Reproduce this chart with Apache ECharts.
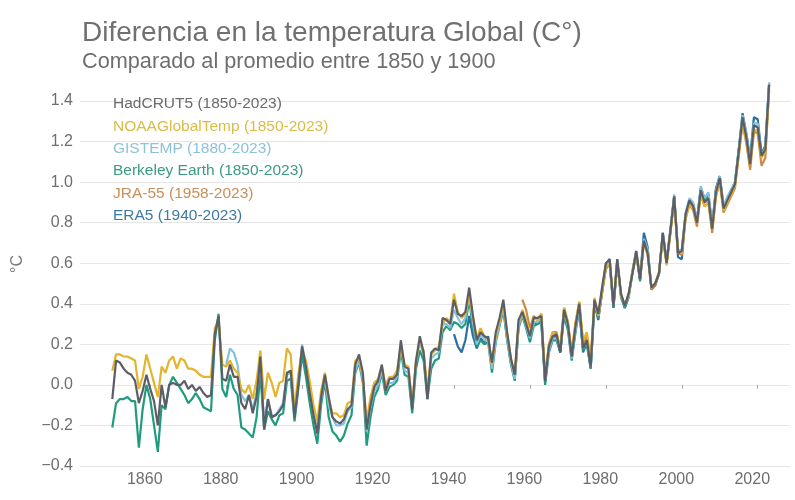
<!DOCTYPE html>
<html>
<head>
<meta charset="utf-8">
<script src="https://cdn.jsdelivr.net/npm/echarts@6/dist/echarts.min.js"></script>
<style>
  html, body { margin: 0; padding: 0; background: #fff; }
  #chart { width: 795px; height: 500px; }
</style>
</head>
<body>
<div id="chart"></div>
<script>
// anomalias anuales (°C) respecto al promedio 1850-1900
const hadcrut5Start = 1850
const hadcrut5 = [
  -0.07, 0.12, 0.11, 0.08, 0.06, 0.05, 0.02, -0.09, -0.03, 0.05,
  -0.02, -0.08, -0.20, 0.00, -0.11, 0.00, 0.01, 0.00, 0.00, 0.02,
  -0.02, 0.00, -0.03, -0.01, -0.04, -0.06, -0.05, 0.25, 0.34, 0.03,
  0.02, 0.10, 0.04, 0.04, -0.09, -0.12, -0.05, -0.14, -0.06, 0.14,
  -0.22, -0.07, -0.16, -0.15, -0.13, -0.10, 0.06, 0.07, -0.16, 0.00,
  0.19, 0.09, -0.04, -0.15, -0.24, -0.06, 0.05, -0.06, -0.16, -0.18,
  -0.19, -0.17, -0.12, -0.10, 0.10, 0.15, 0.06, -0.22, -0.10, -0.01,
  0.02, 0.10, -0.03, 0.03, 0.03, 0.05, 0.22, 0.09, 0.08, -0.12,
  0.12, 0.24, 0.16, -0.07, 0.16, 0.18, 0.17, 0.33, 0.32, 0.30,
  0.42, 0.35, 0.34, 0.36, 0.48, 0.34, 0.22, 0.26, 0.24, 0.23,
  0.11, 0.26, 0.33, 0.42, 0.26, 0.13, 0.05, 0.32, 0.36, 0.30,
  0.24, 0.33, 0.33, 0.34, 0.02, 0.19, 0.24, 0.25, 0.16, 0.37,
  0.30, 0.14, 0.29, 0.40, 0.18, 0.22, 0.09, 0.42, 0.35, 0.48,
  0.60, 0.62, 0.39, 0.62, 0.45, 0.39, 0.45, 0.55, 0.66, 0.52,
  0.71, 0.65, 0.48, 0.50, 0.55, 0.75, 0.60, 0.76, 0.93, 0.65,
  0.66, 0.84, 0.91, 0.88, 0.80, 0.96, 0.90, 0.92, 0.77, 0.95,
  1.02, 0.87, 0.91, 0.95, 0.99, 1.15, 1.32, 1.22, 1.09, 1.28,
  1.27, 1.13, 1.16, 1.48
]

const noaaStart = 1850
const noaaGlobalTemp = [
  0.07, 0.15, 0.15, 0.14, 0.14, 0.13, 0.12, -0.02, 0.04, 0.15,
  0.08, 0.01, -0.06, 0.09, 0.06, 0.12, 0.14, 0.08, 0.13, 0.12,
  0.08, 0.08, 0.07, 0.05, 0.04, 0.04, 0.04, 0.28, 0.32, 0.10,
  0.09, 0.12, 0.08, 0.06, -0.02, -0.04, 0.00, -0.07, 0.02, 0.17,
  -0.07, 0.06, 0.01, -0.06, 0.01, 0.02, 0.18, 0.15, -0.12, 0.05,
  0.17, 0.12, 0.02, -0.10, -0.18, -0.03, 0.06, -0.07, -0.14, -0.14,
  -0.16, -0.15, -0.09, -0.08, 0.12, 0.13, 0.04, -0.18, -0.06, 0.01,
  0.03, 0.09, 0.00, 0.04, 0.04, 0.07, 0.18, 0.10, 0.09, -0.09,
  0.12, 0.21, 0.17, -0.03, 0.15, 0.17, 0.19, 0.30, 0.33, 0.31,
  0.45, 0.36, 0.33, 0.35, 0.44, 0.33, 0.23, 0.28, 0.24, 0.22,
  0.10, 0.24, 0.31, 0.40, 0.25, 0.13, 0.05, 0.30, 0.37, 0.32,
  0.25, 0.33, 0.32, 0.35, 0.04, 0.19, 0.26, 0.25, 0.18, 0.38,
  0.31, 0.16, 0.31, 0.41, 0.22, 0.26, 0.12, 0.43, 0.34, 0.46,
  0.58, 0.60, 0.40, 0.61, 0.44, 0.40, 0.44, 0.56, 0.65, 0.53,
  0.70, 0.64, 0.48, 0.50, 0.56, 0.73, 0.59, 0.75, 0.91, 0.66,
  0.65, 0.82, 0.89, 0.87, 0.80, 0.94, 0.88, 0.90, 0.77, 0.93,
  1.01, 0.86, 0.90, 0.94, 0.98, 1.14, 1.30, 1.20, 1.09, 1.26,
  1.25, 1.12, 1.15, 1.46
]

const gistempStart = 1880
const gistemp = [
  0.10, 0.18, 0.16, 0.10, -0.05, -0.08, -0.05, -0.12, -0.04, 0.12,
  -0.18, -0.07, -0.15, -0.15, -0.12, -0.09, 0.05, 0.06, -0.15, 0.02,
  0.20, 0.10, -0.03, -0.14, -0.22, -0.07, 0.04, -0.10, -0.16, -0.20,
  -0.20, -0.19, -0.13, -0.11, 0.07, 0.12, 0.03, -0.23, -0.11, -0.03,
  0.00, 0.07, -0.03, 0.01, 0.01, 0.04, 0.20, 0.07, 0.06, -0.11,
  0.11, 0.21, 0.15, -0.05, 0.13, 0.15, 0.16, 0.30, 0.30, 0.28,
  0.37, 0.33, 0.30, 0.33, 0.45, 0.31, 0.20, 0.25, 0.22, 0.22,
  0.08, 0.22, 0.30, 0.39, 0.23, 0.11, 0.03, 0.29, 0.35, 0.29,
  0.23, 0.31, 0.31, 0.33, 0.02, 0.17, 0.23, 0.23, 0.17, 0.36,
  0.29, 0.13, 0.27, 0.39, 0.18, 0.22, 0.09, 0.41, 0.34, 0.47,
  0.59, 0.62, 0.39, 0.62, 0.44, 0.39, 0.44, 0.56, 0.66, 0.52,
  0.72, 0.67, 0.48, 0.50, 0.55, 0.75, 0.61, 0.77, 0.94, 0.66,
  0.67, 0.85, 0.92, 0.90, 0.81, 0.98, 0.92, 0.95, 0.79, 0.96,
  1.03, 0.88, 0.93, 0.96, 1.00, 1.16, 1.33, 1.24, 1.11, 1.29,
  1.29, 1.13, 1.17, 1.49
]

const berkeleyStart = 1850
const berkeleyEarth = [
  -0.21, -0.09, -0.07, -0.07, -0.06, -0.08, -0.08, -0.31, -0.12, 0.00,
  -0.07, -0.20, -0.33, -0.10, -0.12, 0.00, 0.04, 0.01, -0.02, -0.05,
  -0.09, -0.07, -0.04, -0.07, -0.11, -0.12, -0.13, 0.22, 0.35, -0.02,
  -0.06, 0.05, -0.02, -0.05, -0.21, -0.22, -0.24, -0.26, -0.16, 0.06,
  -0.22, -0.13, -0.17, -0.20, -0.15, -0.14, 0.02, 0.03, -0.18, -0.02,
  0.15, 0.04, -0.09, -0.20, -0.29, -0.10, 0.02, -0.16, -0.23, -0.25,
  -0.28, -0.25, -0.19, -0.15, 0.06, 0.11, 0.01, -0.30, -0.16, -0.06,
  -0.02, 0.06, -0.05, -0.01, 0.00, 0.02, 0.17, 0.05, 0.04, -0.14,
  0.08, 0.17, 0.12, -0.07, 0.08, 0.12, 0.13, 0.26, 0.29, 0.27,
  0.31, 0.30, 0.28, 0.30, 0.42, 0.28, 0.19, 0.22, 0.20, 0.21,
  0.06, 0.21, 0.29, 0.37, 0.22, 0.10, 0.02, 0.28, 0.34, 0.28,
  0.21, 0.29, 0.30, 0.31, 0.00, 0.16, 0.22, 0.22, 0.16, 0.34,
  0.27, 0.12, 0.26, 0.37, 0.17, 0.20, 0.08, 0.40, 0.33, 0.46,
  0.58, 0.60, 0.38, 0.61, 0.43, 0.38, 0.43, 0.55, 0.65, 0.51,
  0.71, 0.66, 0.48, 0.50, 0.55, 0.74, 0.60, 0.76, 0.93, 0.66,
  0.66, 0.84, 0.91, 0.89, 0.81, 0.97, 0.91, 0.93, 0.78, 0.96,
  1.03, 0.88, 0.92, 0.96, 1.00, 1.16, 1.31, 1.23, 1.10, 1.28,
  1.27, 1.14, 1.17, 1.48
]

const jra55Start = 1958
const jra55 = [
  0.42, 0.37,
  0.28, 0.34, 0.32, 0.35, 0.04, 0.20, 0.26, 0.26, 0.18, 0.38,
  0.31, 0.15, 0.30, 0.41, 0.20, 0.24, 0.11, 0.41, 0.33, 0.45,
  0.57, 0.60, 0.39, 0.60, 0.44, 0.39, 0.45, 0.55, 0.64, 0.52,
  0.70, 0.65, 0.47, 0.49, 0.55, 0.73, 0.60, 0.75, 0.92, 0.65,
  0.64, 0.82, 0.89, 0.86, 0.78, 0.94, 0.88, 0.90, 0.75, 0.93,
  1.00, 0.85, 0.89, 0.93, 0.97, 1.13, 1.29, 1.19, 1.06, 1.25,
  1.24, 1.08, 1.12, 1.45
]

const era5Start = 1940
const era5 = [
  0.25, 0.19, 0.16, 0.22, 0.34, 0.24, 0.18, 0.23, 0.21, 0.24,
  0.09, 0.23, 0.30, 0.38, 0.23, 0.11, 0.03, 0.29, 0.35, 0.30,
  0.23, 0.31, 0.30, 0.32, 0.01, 0.18, 0.23, 0.24, 0.16, 0.36,
  0.29, 0.13, 0.27, 0.38, 0.16, 0.21, 0.08, 0.40, 0.32, 0.46,
  0.59, 0.62, 0.38, 0.61, 0.44, 0.38, 0.44, 0.56, 0.66, 0.52,
  0.75, 0.68, 0.47, 0.49, 0.55, 0.75, 0.61, 0.76, 0.93, 0.63,
  0.62, 0.84, 0.91, 0.89, 0.81, 0.97, 0.92, 0.94, 0.78, 0.97,
  1.03, 0.87, 0.92, 0.96, 0.99, 1.16, 1.34, 1.24, 1.12, 1.32,
  1.31, 1.14, 1.18, 1.49
]

const xTickYears = [1860, 1880, 1900, 1920, 1940, 1960, 1980, 2000, 2020]

// nombre, datos, año inicial, color de linea, color del texto de leyenda
const datasets = [
  { name: 'HadCRUT5 (1850-2023)', values: hadcrut5, start: hadcrut5Start, color: '#5d5d68', text: '#6b6b6b' },
  { name: 'NOAAGlobalTemp (1850-2023)', values: noaaGlobalTemp, start: noaaStart, color: '#e3b42c', text: '#dcbb45' },
  { name: 'GISTEMP (1880-2023)', values: gistemp, start: gistempStart, color: '#86c1de', text: '#8cc3db' },
  { name: 'Berkeley Earth (1850-2023)', values: berkeleyEarth, start: berkeleyStart, color: '#1f9c7d', text: '#3b9a80' },
  { name: 'JRA-55 (1958-2023)', values: jra55, start: jra55Start, color: '#d08943', text: '#c98f58' },
  { name: 'ERA5 (1940-2023)', values: era5, start: era5Start, color: '#2b6f9e', text: '#3d7ba2' }
]

const chart = echarts.init(document.getElementById('chart'))

// la serie gris se dibuja encima del resto
const drawOrder = [5, 4, 3, 2, 1, 0]

const option = {
  animation: false,
  textStyle: { fontFamily: 'Liberation Sans, Arial, sans-serif' },
  title: {
    text: 'Diferencia en la temperatura Global (C°)',
    subtext: 'Comparado al promedio entre 1850 y 1900',
    left: 77,
    top: 14,
    itemGap: 4,
    textStyle: { fontSize: 28, fontWeight: 'normal', color: '#707070' },
    subtextStyle: { fontSize: 21.7, color: '#6e6e6e' }
  },
  legend: {
    orient: 'vertical',
    left: 103,
    top: 91,
    itemWidth: 0,
    itemHeight: 16,
    itemGap: 6.4,
    selectedMode: false,
    textStyle: { fontSize: 15.5 },
    data: datasets.map(d => ({ name: d.name, icon: 'rect', textStyle: { color: d.text } }))
  },
  graphic: [
    {
      type: 'text',
      left: 10,
      top: 255,
      rotation: Math.PI / 2,
      style: { text: '°C', fontSize: 16, fill: '#777', fontFamily: 'Liberation Sans, Arial, sans-serif' }
    }
  ],
  grid: { left: 80, right: 5, top: 101, bottom: 34 },
  xAxis: {
    type: 'value',
    min: 1841.5,
    max: 2028.5,
    axisLine: { show: false },
    splitLine: { show: false },
    axisTick: { show: true, length: 4, lineStyle: { color: '#aaa' }, customValues: xTickYears },
    axisLabel: {
      fontSize: 16,
      color: '#6e6e6e',
      margin: 6,
      padding: [0, 11, 0, 0],
      customValues: xTickYears,
      formatter: v => String(v)
    }
  },
  yAxis: {
    type: 'value',
    min: -0.4,
    max: 1.4,
    interval: 0.2,
    axisLine: { show: false },
    axisTick: { show: false },
    splitLine: { lineStyle: { color: '#e6e6e6', width: 1 } },
    axisLabel: {
      fontSize: 16,
      color: '#6e6e6e',
      margin: 7,
      formatter: v => (v < 0 ? '\u2212' + Math.abs(v).toFixed(1) : v.toFixed(1))
    }
  },
  series: drawOrder.map(i => {
    const d = datasets[i]
    return {
      name: d.name,
      type: 'line',
      showSymbol: false,
      clip: false,
      color: d.color,
      lineStyle: { width: 2.2, color: d.color },
      data: d.values.map((v, k) => [d.start + k, v])
    }
  })
}

chart.setOption(option)
</script>
</body>
</html>
